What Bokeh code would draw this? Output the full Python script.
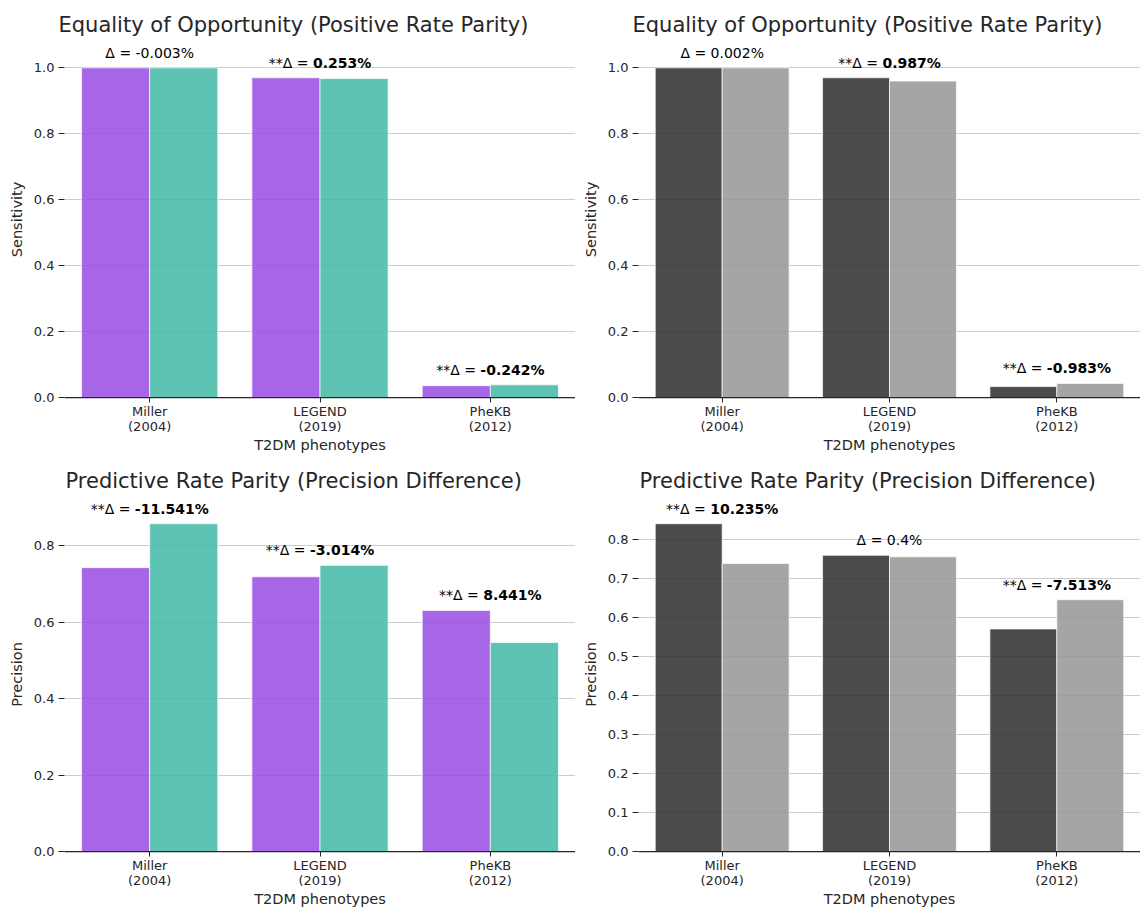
from bokeh.plotting import figure
from bokeh.layouts import column, row
from bokeh.models import Range1d, FixedTicker, NumeralTickFormatter, ColumnDataSource
from bokeh.core.properties import value
from bokeh.embed import file_html
from bokeh.resources import INLINE

# ---------------- data ----------------
phenotypes = ["Miller\n(2004)", "LEGEND\n(2019)", "PheKB\n(2012)"]

# top-left: sensitivity (purple / teal)
sens_a = [1.0, 0.970, 0.036]
sens_b = [1.0, 0.9675, 0.0384]
sens_delta = [-0.003, 0.253, -0.242]
sens_sig = [False, True, True]

# top-right: sensitivity (dark / light gray)
sens2_a = [1.0, 0.970, 0.033]
sens2_b = [1.0, 0.960, 0.0428]
sens2_delta = [0.002, 0.987, -0.983]
sens2_sig = [False, True, True]

# bottom-left: precision (purple / teal)
prec_a = [0.743, 0.719, 0.631]
prec_b = [0.858, 0.749, 0.547]
prec_delta = [-11.541, -3.014, 8.441]
prec_sig = [True, True, True]

# bottom-right: precision (dark / light gray)
prec2_a = [0.841, 0.760, 0.571]
prec2_b = [0.739, 0.756, 0.646]
prec2_delta = [10.235, 0.4, -7.513]
prec2_sig = [True, False, True]

yticks_sens = [0.0, 0.2, 0.4, 0.6, 0.8, 1.0]
yticks_prec = [0.0, 0.2, 0.4, 0.6, 0.8]
yticks_prec2 = [0.0, 0.1, 0.2, 0.3, 0.4, 0.5, 0.6, 0.7, 0.8]

title_sens = "Equality of Opportunity (Positive Rate Parity)"
title_prec = "Predictive Rate Parity (Precision Difference)"
xlabel = "T2DM phenotypes"

# ---------------- style ----------------
TXT = "#262626"
FONT = "DejaVu Sans"
PURPLE, TEAL = "#974be2", "#43b8a7"
DARK, LIGHT = "#2b2b2b", "#959595"

W_NORMAL = {"*": 0.5, "Δ": 0.684, "=": 0.838, " ": 0.318, "-": 0.361, ".": 0.318, "%": 0.950}
W_BOLD = {"-": 0.415, ".": 0.380, "%": 1.002}


def text_w(s, bold, size):
    tot = 0.0
    for ch in s:
        if ch.isdigit():
            tot += 0.696 if bold else 0.636
        else:
            tot += (W_BOLD if bold else W_NORMAL).get(ch, 0.6)
    return tot * size


def panel(title, ylabel, a, b, delta, sig, ca, cb, yticks, fw, bl, br, bt, bb, fh, toff):
    ymax = max(max(a), max(b)) * 1.08
    p = figure(frame_width=fw, frame_height=fh, output_backend="svg", toolbar_location=None,
               x_range=Range1d(-0.5, 2.5), y_range=Range1d(0, ymax),
               min_border_left=bl, min_border_right=br, min_border_top=bt, min_border_bottom=bb,
               tools="")
    p.outline_line_color = None
    p.background_fill_color = "white"
    p.border_fill_color = "white"
    p.title.text = title
    p.title.text_font = FONT
    p.title.text_font_size = "21px"
    p.title.text_font_style = "normal"
    p.title.text_color = TXT
    p.title.align = "left"
    p.title.offset = toff
    p.title.standoff = 10

    idx = list(range(len(a)))
    p.vbar(x=[i - 0.2 for i in idx], top=a, width=0.4, fill_color=ca, fill_alpha=0.85,
           line_color="white", line_alpha=0.7, line_width=1)
    p.vbar(x=[i + 0.2 for i in idx], top=b, width=0.4, fill_color=cb, fill_alpha=0.85,
           line_color="white", line_alpha=0.7, line_width=1)

    # annotations
    pre, val, xs, ys, offs = [], [], [], [], []
    for i in idx:
        pr = ("**" if sig[i] else "") + "Δ = "
        v = f"{delta[i]}%"
        wp = text_w(pr, False, 14)
        wv = text_w(v, sig[i], 14)
        pre.append(pr)
        val.append(v)
        xs.append(i)
        ys.append(max(a[i], b[i]))
        offs.append((wp - wv) / 2.0)
    src_pre = ColumnDataSource(dict(x=xs, y=ys, t=pre, o=offs))
    p.text(x="x", y="y", text="t", x_offset="o", y_offset=-15, source=src_pre,
           text_align="right", text_baseline="alphabetic", text_font=value(FONT),
           text_font_size="14px", text_color="black")
    for bold_flag in (True, False):
        sel = [i for i in idx if sig[i] == bold_flag]
        if not sel:
            continue
        src_v = ColumnDataSource(dict(x=[xs[i] for i in sel], y=[ys[i] for i in sel],
                                      t=[val[i] for i in sel], o=[offs[i] for i in sel]))
        p.text(x="x", y="y", text="t", x_offset="o", y_offset=-15, source=src_v,
               text_align="left", text_baseline="alphabetic", text_font=value(FONT),
               text_font_size="14px", text_color="black",
               text_font_style="bold" if bold_flag else "normal")

    # grid
    p.xgrid.grid_line_color = None
    p.ygrid.grid_line_color = "#cccccc"
    p.ygrid.grid_line_width = 1
    p.ygrid.ticker = FixedTicker(ticks=yticks)

    # y axis
    ya = p.yaxis[0]
    ya.ticker = FixedTicker(ticks=yticks)
    ya.formatter = NumeralTickFormatter(format="0.0")
    ya.axis_line_color = None
    ya.major_tick_out = 6
    ya.major_tick_in = 0
    ya.major_tick_line_color = TXT
    ya.minor_tick_line_color = None
    ya.major_label_text_font = FONT
    ya.major_label_text_font_size = "13px"
    ya.major_label_text_color = TXT
    ya.major_label_standoff = 4
    ya.axis_label = ylabel
    ya.axis_label_text_font = FONT
    ya.axis_label_text_font_size = "14.5px"
    ya.axis_label_text_font_style = "normal"
    ya.axis_label_text_color = TXT
    ya.axis_label_standoff = 6

    # x axis
    xa = p.xaxis[0]
    xa.ticker = FixedTicker(ticks=idx)
    xa.major_label_overrides = {i: phenotypes[i] for i in idx}
    xa.axis_line_color = TXT
    xa.axis_line_width = 1.25
    xa.major_tick_out = 5
    xa.major_tick_in = 0
    xa.major_tick_line_color = TXT
    xa.minor_tick_line_color = None
    xa.major_label_text_font = FONT
    xa.major_label_text_font_size = "13px"
    xa.major_label_text_color = TXT
    xa.major_label_text_line_height = 1.02
    xa.major_label_standoff = 1
    xa.axis_label = xlabel
    xa.axis_label_text_font = FONT
    xa.axis_label_text_font_size = "14.5px"
    xa.axis_label_text_font_style = "normal"
    xa.axis_label_text_color = TXT
    xa.axis_label_standoff = 0
    return p


p1 = panel(title_sens, "Sensitivity", sens_a, sens_b, sens_delta, sens_sig, PURPLE, TEAL,
           yticks_sens, 511, 64, 0, 41, 55, 356, -6)
p2 = panel(title_sens, "Sensitivity", sens2_a, sens2_b, sens2_delta, sens2_sig, DARK, LIGHT,
           yticks_sens, 502, 63, 0, 41, 55, 356, -6)
p3 = panel(title_prec, "Precision", prec_a, prec_b, prec_delta, prec_sig, PURPLE, TEAL,
           yticks_prec, 511, 64, 0, 42, 55, 354, 1)
p4 = panel(title_prec, "Precision", prec2_a, prec2_b, prec2_delta, prec2_sig, DARK, LIGHT,
           yticks_prec2, 502, 63, 0, 42, 55, 354, 1)

layout = column(row(p1, p2, spacing=0), row(p3, p4, spacing=0), spacing=0)
open("out.html", "w").write(file_html(layout, INLINE))
